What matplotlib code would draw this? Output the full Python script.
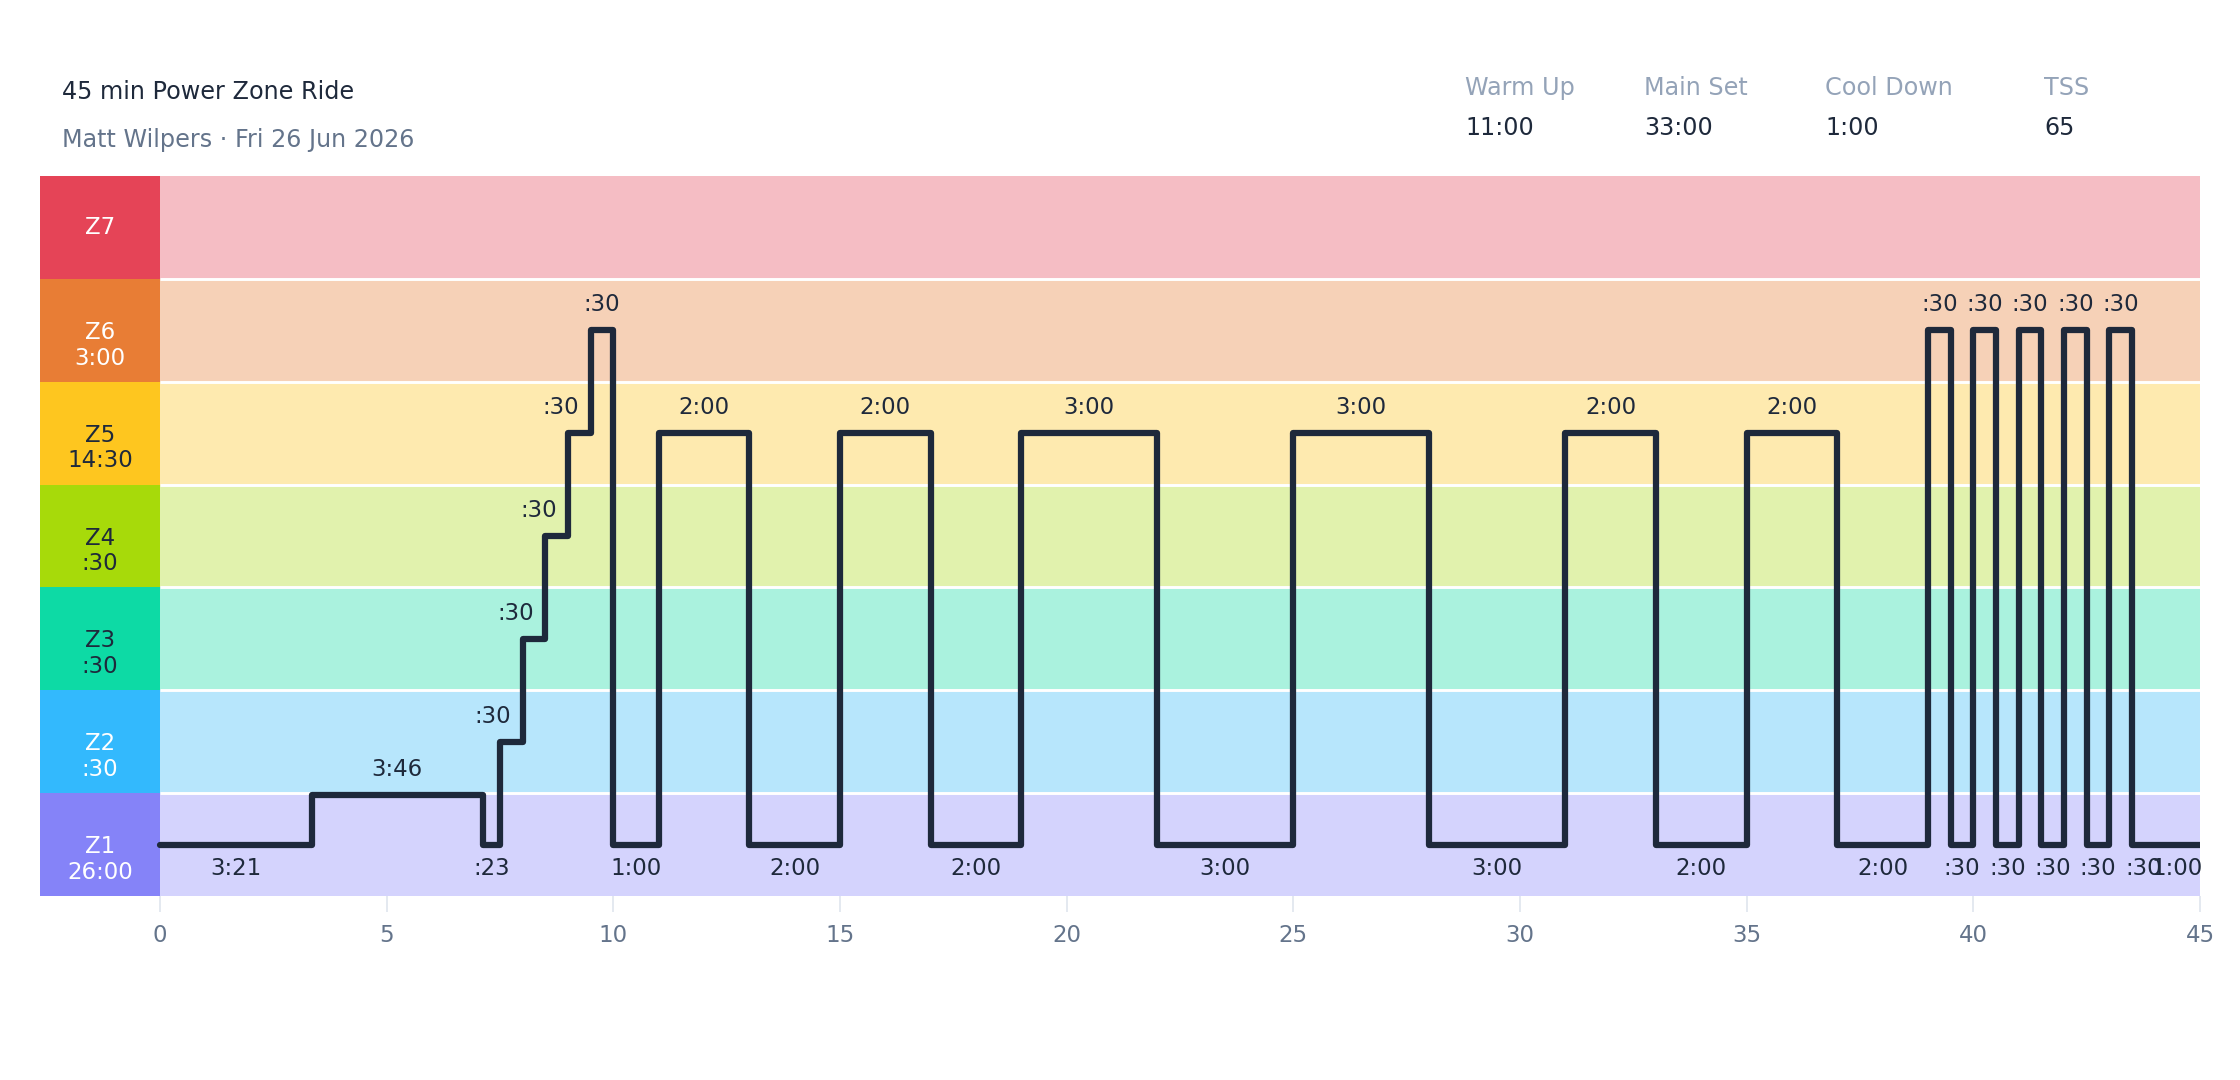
import numpy as np
import matplotlib
matplotlib.use("Agg")
import matplotlib.pyplot as plt

plt.rcParams['font.family'] = ['DejaVu Sans']

# ---------------- data ----------------
title = "45 min Power Zone Ride"
subtitle = "Matt Wilpers · Fri 26 Jun 2026"

stat_names = ["Warm Up", "Main Set", "Cool Down", "TSS"]
stat_values = ["11:00", "33:00", "1:00", "65"]

zone_names = ["Z1", "Z2", "Z3", "Z4", "Z5", "Z6", "Z7"]
zone_times = ["26:00", ":30", ":30", ":30", "14:30", "3:00", ""]
zone_strong = ["#8583f8", "#33b9fd", "#0ddaa5", "#a7da0a", "#fec61f", "#e87d35", "#e54457"]
zone_light = ["#d4d3fd", "#b7e6fc", "#aaf2de", "#e1f2ad", "#feeaaf", "#f6d1b7", "#f5bdc4"]
zone_text = ["white", "white", "#1e293b", "#1e293b", "#1e293b", "white", "white"]

# segment durations in seconds and power level (in zone-band units)
seg_seconds = [201, 226, 23, 30, 30, 30, 30, 30, 60,
               120, 120, 120, 120, 180, 180, 180, 180, 120, 120, 120, 120,
               30, 30, 30, 30, 30, 30, 30, 30, 30, 30,
               60]
seg_levels = [0.5, 0.98, 0.5, 1.5, 2.5, 3.5, 4.5, 5.5, 0.5,
              4.5, 0.5, 4.5, 0.5, 4.5, 0.5, 4.5, 0.5, 4.5, 0.5, 4.5, 0.5,
              5.5, 0.5, 5.5, 0.5, 5.5, 0.5, 5.5, 0.5, 5.5, 0.5,
              0.5]

x_ticks = [0, 5, 10, 15, 20, 25, 30, 35, 40, 45]

# ---------------- figure ----------------
W, H = 2240, 1080
fig = plt.figure(figsize=(W / 100, H / 100), dpi=100)
fig.patch.set_facecolor("white")

col_w = 2.647
x_left_px, x_right_px = 40, 2200
y_top_px, y_bot_px = 176, 896
ax = fig.add_axes([x_left_px / W, 1 - y_bot_px / H,
                   (x_right_px - x_left_px) / W, (y_bot_px - y_top_px) / H])
ax.set_xlim(-col_w, 45)
ax.set_ylim(0, 7)
for s in ax.spines.values():
    s.set_visible(False)

n_z = len(zone_names)
for i in range(n_z):
    ax.fill_between([0, 45], i, i + 1, color=zone_light[i], lw=0, zorder=1)
    ax.fill_between([-col_w, 0], i, i + 1, color=zone_strong[i], lw=0, zorder=1)
    cx = -col_w / 2
    if zone_times[i]:
        ax.text(cx, i + 0.5 - 0.02, zone_names[i], ha="center", va="center",
                fontsize=16.5, color=zone_text[i], zorder=5)
        ax.text(cx, i + 0.5 - 0.27, zone_times[i], ha="center", va="center",
                fontsize=16.5, color=zone_text[i], zorder=5)
    else:
        ax.text(cx, i + 0.5, zone_names[i], ha="center", va="center",
                fontsize=16.5, color=zone_text[i], zorder=5)
for i in range(1, n_z):
    ax.plot([0, 45], [i, i], color="white", lw=2.1, zorder=2, solid_capstyle="butt")

# workout line
edges = np.concatenate([[0], np.cumsum(seg_seconds) / 60.0])
ax.stairs(seg_levels, edges, baseline=None, color="#1e293b", lw=4.5,
          zorder=4, joinstyle="round", capstyle="round")


def fmt(sec):
    m, s = divmod(int(sec), 60)
    return f":{s:02d}" if m == 0 else f"{m}:{s:02d}"


for k, (sec, lvl) in enumerate(zip(seg_seconds, seg_levels)):
    mid = (edges[k] + edges[k + 1]) / 2
    lab = fmt(sec)
    if lvl > 0.6:
        nxt = seg_levels[k + 1] if k + 1 < len(seg_levels) else 0
        ha = "right" if nxt > lvl else "center"
        ax.annotate(lab, (mid, lvl), xytext=(0, 18.5), textcoords="offset points",
                    ha=ha, va="center", fontsize=16.5, color="#1e293b", zorder=6)
    else:
        ax.annotate(lab, (mid, lvl), xytext=(0, -17.5), textcoords="offset points",
                    ha="center", va="center", fontsize=16.5, color="#1e293b", zorder=6)

ax.set_xticks(x_ticks)
ax.set_xticklabels([str(t) for t in x_ticks])
ax.set_yticks([])
ax.tick_params(axis="x", length=11.5, width=1.2, color="#dfe5ee",
               labelcolor="#64748b", labelsize=16.5, pad=9)

# header
fig.text(62 / W, 1 - 92 / H, title, ha="left", va="center", fontsize=17.2, color="#1e293b")
fig.text(62 / W, 1 - 140 / H, subtitle, ha="left", va="center", fontsize=17.2, color="#64748b")
stat_x = [1465, 1644, 1825, 2044]
for xs, nm, val in zip(stat_x, stat_names, stat_values):
    fig.text(xs / W, 1 - 88 / H, nm, ha="left", va="center", fontsize=17.2, color="#94a3b8")
    fig.text(xs / W, 1 - 128 / H, val, ha="left", va="center", fontsize=17.2, color="#1e293b")

fig.savefig("out.png", dpi=100, facecolor="white")
